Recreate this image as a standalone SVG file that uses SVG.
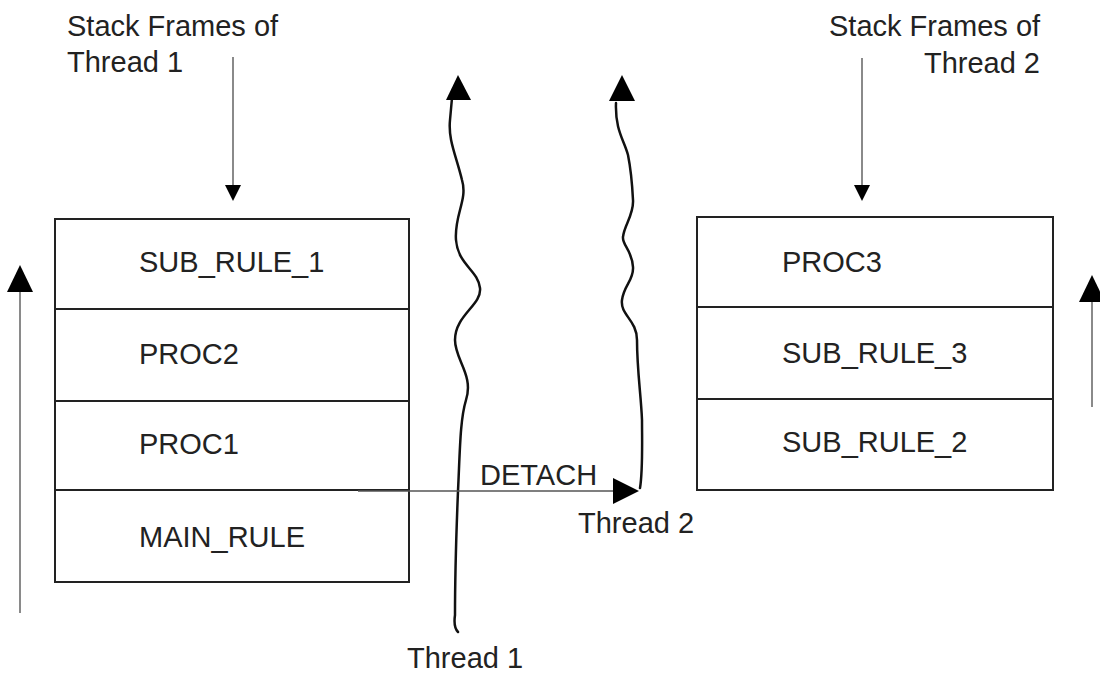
<svg xmlns="http://www.w3.org/2000/svg" width="1100" height="673" viewBox="0 0 1100 673">
<style>
text{font-family:"Liberation Sans",Arial,sans-serif;font-size:29px;fill:#222}
.box{fill:none;stroke:#222;stroke-width:2}
.div{stroke:#222;stroke-width:2}
.shaft{stroke:#8a8a8a;stroke-width:2;fill:none}
.wave{stroke:#111;stroke-width:2.5;fill:none;stroke-linecap:round}
.head{fill:#000}
</style>
<rect width="1100" height="673" fill="#fff"/>
<g id="label-thread1-frames">
<text x="67" y="36">Stack Frames of</text>
<text x="67" y="72">Thread 1</text>
</g>
<g id="label-thread2-frames">
<text x="829" y="36">Stack Frames of</text>
<text x="1040" y="73" text-anchor="end">Thread 2</text>
</g>
<g id="stack1">
<rect class="box" x="55" y="219" width="354" height="363"/>
<line class="div" x1="55" y1="309" x2="409" y2="309"/>
<line class="div" x1="55" y1="401" x2="409" y2="401"/>
<line class="div" x1="55" y1="490" x2="409" y2="490"/>
<text x="139" y="272">SUB_RULE_1</text>
<text x="139" y="364">PROC2</text>
<text x="139" y="454">PROC1</text>
<text x="139" y="547">MAIN_RULE</text>
</g>
<g id="stack2">
<rect class="box" x="697" y="217" width="356" height="273"/>
<line class="div" x1="697" y1="307" x2="1053" y2="307"/>
<line class="div" x1="697" y1="399" x2="1053" y2="399"/>
<text x="782" y="272">PROC3</text>
<text x="782" y="363">SUB_RULE_3</text>
<text x="782" y="452">SUB_RULE_2</text>
</g>
<g id="thread1">
<path class="wave" d="M458 632 C454 628 454 622 455 615 C455 590 456 540 458 491 C460 450 460 420 466 400 C474 375 455 360 455 340 C455 315 482 305 480 288 C478 270 458 265 456 240 C454 215 468 200 462 180 C456 155 448 140 450 120 L452 98"/>
<polygon class="head" points="458,75 446,100 471,100"/>
<text x="407" y="668">Thread 1</text>
</g>
<g id="thread2">
<path class="wave" d="M640 488 C643 470 642 440 642 420 C641 395 637 370 637 340 C637 320 620 315 622 300 C624 285 634 280 633 267 C632 250 622 245 623 237 C624 225 634 215 633 200 C632 180 630 165 628 155 C624 140 615 130 616 103"/>
<polygon class="head" points="622,75 609,101 635,101"/>
<text x="578" y="533">Thread 2</text>
</g>
<g id="connectors">
<line class="shaft" x1="233" y1="57" x2="233" y2="186"/>
<polygon class="head" points="233,201 225,185 241,185"/>
<line class="shaft" x1="862" y1="58" x2="862" y2="186"/>
<polygon class="head" points="862,201 854,185 870,185"/>
<line class="shaft" x1="20" y1="292" x2="20" y2="613"/>
<polygon class="head" points="20,265 7,292 33,292"/>
<line class="shaft" x1="1092" y1="302" x2="1092" y2="407"/>
<polygon class="head" points="1092,275 1079,302 1105,302"/>
<line stroke="#555" stroke-width="1.5" x1="358" y1="491" x2="615" y2="491"/>
<polygon class="head" points="639,491 613,478 613,504"/>
<text x="480" y="485">DETACH</text>
</g>
</svg>
